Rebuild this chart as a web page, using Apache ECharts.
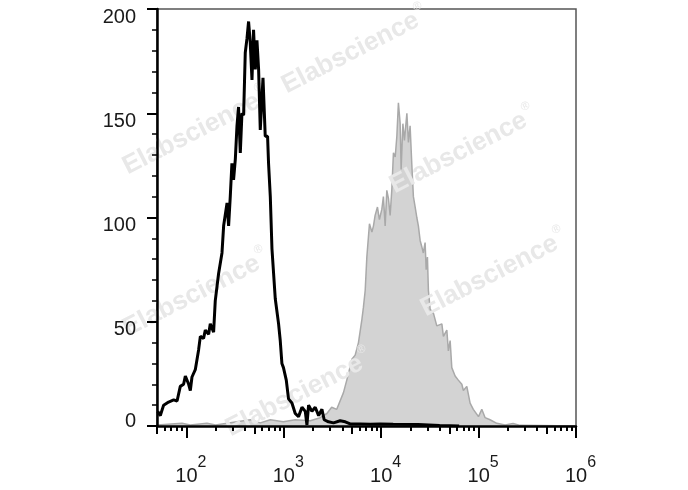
<!DOCTYPE html>
<html>
<head>
<meta charset="utf-8">
<script src="https://cdn.jsdelivr.net/npm/echarts@6/dist/echarts.min.js"></script>
<style>
html,body{margin:0;padding:0;background:#fff;}
#chart{width:688px;height:490px;}
</style>
</head>
<body>
<div id="chart"></div>
<script>
// x values are log10 of fluorescence intensity (decades)
const ctrlX = [1.706,1.733,1.767,1.818,1.870,1.905,1.938,1.972,1.990,2.024,2.041,2.058,2.092,2.126,2.144,2.177,2.195,2.229,2.246,2.280,2.297,2.315,2.331,2.366,2.383,2.418,2.434,2.451,2.468,2.485,2.503,2.520,2.536,2.554,2.571,2.588,2.605,2.623,2.639,2.656,2.674,2.690,2.708,2.725,2.742,2.759,2.787,2.810,2.834,2.844,2.862,2.879,2.913,2.947,2.964,2.981,2.997,3.026,3.049,3.084,3.118,3.152,3.187,3.221,3.238,3.255,3.289,3.323,3.358,3.392,3.415,3.459,3.511,3.579,3.631,3.682,3.785,3.887,3.990,4.123,4.379,4.600,4.800];
const ctrlY = [7,5,10,11.5,12.5,12,19,20,24,20,17,23.5,27,36.5,43,42,46,44,49,45,60,67,73,83,96,107,96,110,126,118,128,144,153,131,150,149,179,186,194,184,166,190,171,185,171,142,167,139,139,126,110,85,61,49,41,30,28,22,13,11,6,4.5,9,7,0.5,10,7,9,5,8,3,2,1.5,2.5,2,1,1,0.8,1,0.8,0.7,0.3,0];

const stainX = [1.703,1.956,2.040,2.212,2.300,2.520,2.656,2.759,2.862,2.995,3.118,3.272,3.374,3.443,3.492,3.544,3.613,3.664,3.699,3.733,3.767,3.802,3.818,3.836,3.853,3.880,3.905,3.921,3.938,3.962,3.982,4.007,4.023,4.041,4.058,4.075,4.092,4.109,4.126,4.144,4.161,4.177,4.195,4.205,4.223,4.239,4.264,4.280,4.297,4.315,4.331,4.349,4.366,4.382,4.400,4.417,4.433,4.451,4.462,4.475,4.485,4.503,4.537,4.571,4.623,4.639,4.674,4.690,4.708,4.725,4.759,4.792,4.828,4.844,4.879,4.913,4.946,4.999,5.033,5.067,5.118,5.187,5.272,5.354,5.426,5.630,6.000];
const stainY = [0.5,1.3,0.5,1.3,0.5,2,3,1.5,3,2,3,2.5,4,6,9,8,16,25,32,34,40,51,57,65,81,97,93,96,101,105,99,104,110,96,113,109,101,113,131,129,139,155,145,123,145,137,150,136,144,125,110,105,100,96,89,86,83,88,75,81,65,56,54,48,49,43,46,36,41,28,24,22,20,17,19,11,8,4.5,8,4,3,1.3,0.5,1.2,0.3,0.2,0];

const majorTicks = [2,3,4,5,6];
const mediumTickValues = [50,500,5000,50000,500000];
const minorTickValues = [60,70,80,90,200,300,400,600,700,800,900,2000,3000,4000,6000,7000,8000,9000,20000,30000,40000,60000,70000,80000,90000,200000,300000,400000,600000,700000,800000,900000];
const yTicks = [0,50,100,150,200];
const watermarkText = 'Elabscience';

const xMin = Math.log10(50), xMax = 6;
const FONT = 'Liberation Sans';

const chart = echarts.init(document.getElementById('chart'), null, {renderer:'canvas'});

function tickAxis(values, len, withLabel){
  return {
    type:'value', min:xMin, max:xMax, position:'bottom', gridIndex:0, z:10,
    axisLine:{show: withLabel, onZero:false, lineStyle:{color:'#000', width:2.5}},
    axisTick:{show:true, customValues: values, length: len, inside:false, lineStyle:{color:'#000', width:2}},
    axisLabel: withLabel ? {
      show:true, customValues: values, margin: 29, color:'#1a1a1a',
      formatter: v => '{p|}{b|10}{s|' + Math.round(v) + '}',
      rich:{
        p:{width:9, fontFamily:FONT, fontSize:20, lineHeight:31},
        b:{fontFamily:FONT, fontSize:20, lineHeight:20, color:'#1a1a1a', verticalAlign:'bottom'},
        s:{fontFamily:FONT, fontSize:16, lineHeight:16, color:'#1a1a1a', verticalAlign:'top'}
      }
    } : {show:false},
    splitLine:{show:false}
  };
}

const wm = [[354,49],[462,149],[493,272],[298,392],[195,130],[195,292]];
const graphicEls = wm.map(p => ({
  type:'text', x:p[0], y:p[1], rotation: 27*Math.PI/180, z:2, silent:true,
  style:{
    text: '{a|' + watermarkText + '}{r|®}',
    align:'center', verticalAlign:'middle',
    rich:{
      a:{fontFamily:FONT, fontWeight:'bold', fontSize:26, fill:'#e8e8e8', lineHeight:30, verticalAlign:'bottom'},
      r:{fontFamily:FONT, fontSize:12, fill:'#e8e8e8', lineHeight:12, verticalAlign:'top', padding:[0,0,0,1]}
    }
  }
}));

const yRich = {
  d:{fontFamily:FONT, fontSize:20, lineHeight:20, color:'#1a1a1a', verticalAlign:'bottom'},
  h:{width:0, lineHeight:36},
  t:{fontFamily:FONT, fontSize:20, lineHeight:20, color:'#1a1a1a', verticalAlign:'top'},
  h0:{width:0, lineHeight:30}
};

const option = {
  animation:false,
  backgroundColor:'#fff',
  grid:{left:157, right:112, top:9, bottom:64, outerBoundsMode:'none', show:true, borderColor:'#555', borderWidth:1.5, backgroundColor:'transparent'},
  xAxis:[
    tickAxis(majorTicks, 12, true),
    tickAxis(mediumTickValues.map(v=>Math.log10(v)), 8, false),
    tickAxis(minorTickValues.map(v=>Math.log10(v)), 5, false)
  ],
  yAxis:{
    type:'value', min:0, max:200, interval:50, z:10,
    axisLine:{show:true, lineStyle:{color:'#000', width:2.5}},
    axisTick:{show:true, length:10, lineStyle:{color:'#000', width:2}},
    minorTick:{show:true, splitNumber:5, length:5, lineStyle:{color:'#000', width:1.5}},
    axisLabel:{show:true, margin:21, color:'#1a1a1a',
      customValues: yTicks,
      formatter: v => v === 0 ? '{t|0}{h0|}' : '{d|' + v + '}{h|}',
      rich: yRich},
    splitLine:{show:false}
  },
  graphic:{elements: graphicEls},
  series:[
    {
      type:'line', name:'stained', xAxisIndex:0, z:1,
      data: stainX.map((x,i)=>[x, stainY[i]]),
      symbol:'none', smooth:false,
      lineStyle:{color:'#a9a9a9', width:1.5},
      areaStyle:{color:'#d3d3d3', opacity:1}
    },
    {
      type:'line', name:'control', xAxisIndex:0, z:5,
      data: ctrlX.map((x,i)=>[x, ctrlY[i]]),
      symbol:'none', smooth:false,
      lineStyle:{color:'#000', width:3}
    }
  ]
};
chart.setOption(option);
</script>
</body>
</html>
